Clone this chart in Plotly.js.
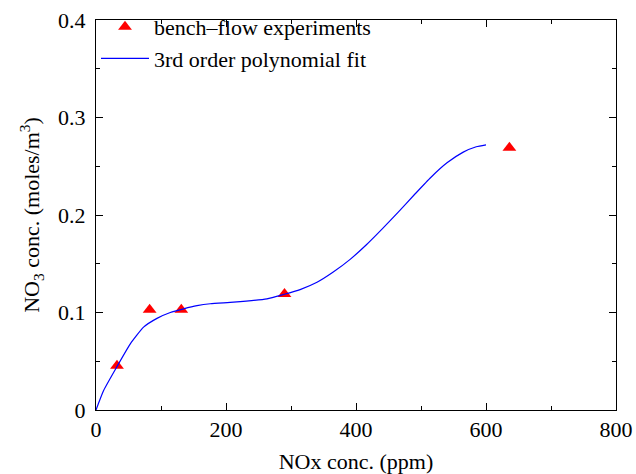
<!DOCTYPE html>
<html>
<head>
<meta charset="utf-8">
<script src="https://cdn.plot.ly/plotly-3.0.1.min.js"></script>
<style>html,body{margin:0;padding:0;background:#fff;}#chart{width:636px;height:474px;}</style>
</head>
<body>
<div id="chart"></div>
<script>
// Experimental points
const expX = [32.3, 82.5, 131.2, 290, 636];
const expY = [0.0453, 0.1028, 0.1028, 0.119, 0.269];

// Fitted curve
const fitX = [0, 11.7, 32.3, 52.8, 73.2, 93.8, 114.3, 134.8, 155.4, 175.8, 211.7, 263, 288.6, 314, 340, 365, 391, 416, 440, 465, 490, 515, 540, 565, 585, 600];
const fitY = [0, 0.020, 0.0446, 0.0679, 0.085, 0.094, 0.100, 0.1038, 0.107, 0.109, 0.1106, 0.114, 0.1185, 0.1235, 0.131, 0.1415, 0.1545, 0.1695, 0.1855, 0.203, 0.221, 0.2385, 0.2535, 0.2645, 0.270, 0.272];

const xTicks = [0, 200, 400, 600, 800];
const yTicks = [0, 0.1, 0.2, 0.3, 0.4];
const yTickLabels = ['0', '0.1', '0.2', '0.3', '0.4'];

const font = 'Liberation Serif';

const traces = [
  {
    x: expX, y: expY, type: 'scatter', mode: 'markers',
    name: 'bench\u2013flow experiments',
    marker: {symbol: 'triangle-up', size: 12, color: '#ff0000'}
  },
  {
    x: fitX, y: fitY, type: 'scatter', mode: 'lines',
    name: '3rd order polynomial fit',
    line: {color: '#0000ff', width: 1.2, shape: 'spline', smoothing: 0.5}
  }
];

const axisCommon = {
  showgrid: false, zeroline: false,
  showline: true, linecolor: '#000', linewidth: 1,
  mirror: 'ticks', ticks: 'inside', ticklen: 7, tickwidth: 1, tickcolor: '#000',
  tickfont: {family: font, size: 22, color: '#000'}
};

const layout = {
  width: 636, height: 474,
  margin: {l: 96, r: 20, t: 20, b: 64, autoexpand: false},
  paper_bgcolor: '#fff', plot_bgcolor: '#fff',
  font: {family: font, size: 22, color: '#000'},
  showlegend: true,
  legend: {
    x: 0.0, y: 1.036, xanchor: 'left', yanchor: 'top',
    bgcolor: 'rgba(0,0,0,0)', borderwidth: 0,
    font: {family: font, size: 22, color: '#000'},
    itemwidth: 48, tracegroupgap: 0
  },
  xaxis: Object.assign({}, axisCommon, {
    range: [0, 800], tickvals: xTicks, ticktext: xTicks.map(String),
    minor: {dtick: 100, ticks: 'inside', ticklen: 4, tickwidth: 1, tickcolor: '#000', tick0: 0},
    title: {text: 'NOx conc. (ppm)', font: {family: font, size: 22, color: '#000'}, standoff: 12}
  }),
  yaxis: Object.assign({}, axisCommon, {
    range: [0, 0.4], tickvals: yTicks, ticktext: yTickLabels,
    ticklabelstandoff: 5,
    minor: {dtick: 0.05, ticks: 'inside', ticklen: 4, tickwidth: 1, tickcolor: '#000', tick0: 0},
    title: {text: 'NO<sub>3</sub> conc. (moles/m<sup>3</sup>)', font: {family: font, size: 22, color: '#000'}, standoff: 12}
  })
};

Plotly.newPlot('chart', traces, layout, {displayModeBar: false, staticPlot: true});
</script>
</body>
</html>
